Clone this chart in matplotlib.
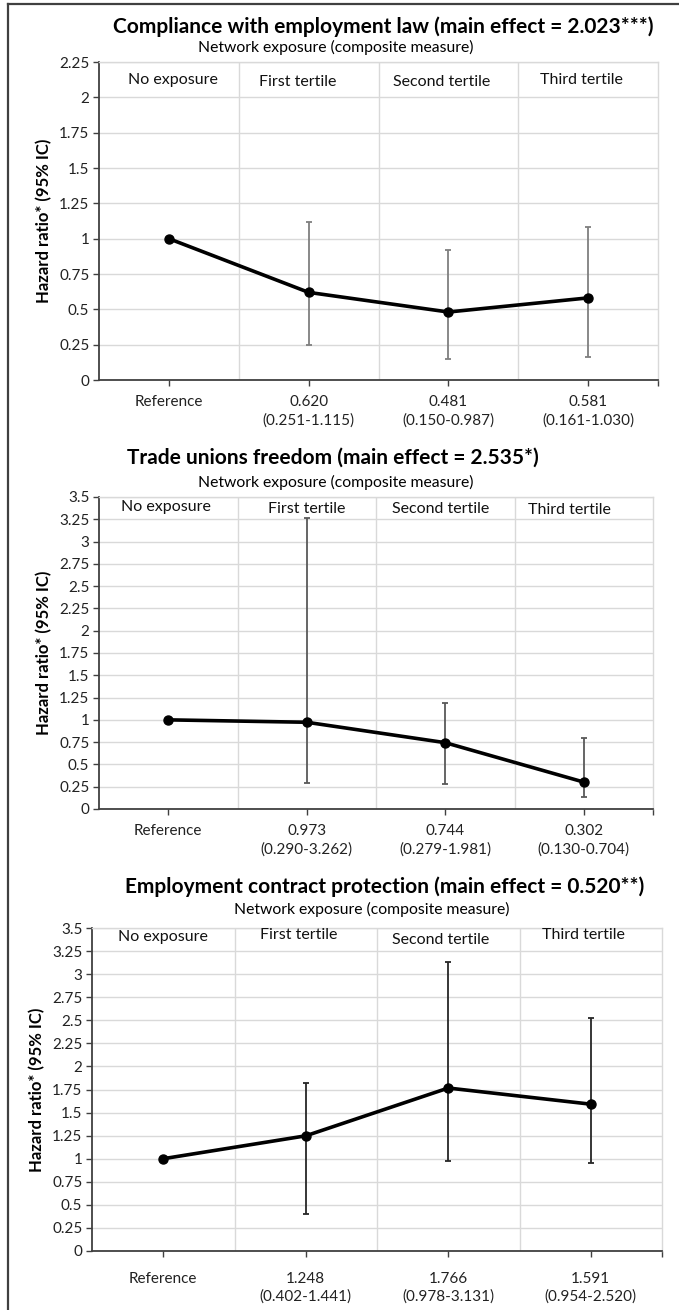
import matplotlib.pyplot as plt
import matplotlib.ticker as ticker
from matplotlib.lines import Line2D

plt.rcParams['font.family'] = ['Lato', 'DejaVu Sans']

# categories (column headers, shared by the three panels)
groups = ['No exposure', 'First tertile', 'Second tertile', 'Third tertile']
subtitle = 'Network exposure (composite measure)'

# panel 1 - compliance with employment law
title1 = 'Compliance with employment law (main effect = 2.023***)'
hr1 = [1.0, 0.620, 0.481, 0.581]
lo1 = [1.0, 0.251, 0.150, 0.161]
hi1 = [1.0, 1.115, 0.92, 1.08]
lab1 = ['Reference', '0.620\n(0.251-1.115)', '0.481\n(0.150-0.987)', '0.581\n(0.161-1.030)']

# panel 2 - trade unions freedom
title2 = 'Trade unions freedom (main effect = 2.535*)'
hr2 = [1.0, 0.973, 0.744, 0.302]
lo2 = [1.0, 0.290, 0.279, 0.130]
hi2 = [1.0, 3.262, 1.19, 0.80]
lab2 = ['Reference', '0.973\n(0.290-3.262)', '0.744\n(0.279-1.981)', '0.302\n(0.130-0.704)']

# panel 3 - employment contract protection
title3 = 'Employment contract protection (main effect = 0.520**)'
hr3 = [1.0, 1.248, 1.766, 1.591]
lo3 = [1.0, 0.402, 0.978, 0.954]
hi3 = [1.0, 1.82, 3.131, 2.520]
lab3 = ['Reference', '1.248\n(0.402-1.441)', '1.766\n(0.978-3.131)', '1.591\n(0.954-2.520)']

W, H = 679, 1310
fig = plt.figure(figsize=(W / 100, H / 100), dpi=100)
fig.patch.set_facecolor('white')

# outer frame (only left and top edges are visible in the crop)
fig.add_artist(Line2D([8 / W, 8 / W], [0, 1 - 4 / H], color='#404040', lw=1.6))
fig.add_artist(Line2D([8 / W, 1], [1 - 4 / H, 1 - 4 / H], color='#404040', lw=1.6))

GRID = '#d9d9d9'
AXC = '#404040'


def px_rect(left, top, right, bottom):
    return [left / W, 1 - bottom / H, (right - left) / W, (bottom - top) / H]


def draw_panel(rect, hr, lo, hi, labels, ymax, errcolor, header_pos, tickpad):
    ax = fig.add_axes(rect)
    x = list(range(len(hr)))
    ax.set_xlim(-0.5, len(hr) - 0.5)
    ax.set_ylim(0, ymax)

    # error bars (the reference category has none)
    ax.errorbar(x[1:], hr[1:],
                yerr=[[h - l for h, l in zip(hr[1:], lo[1:])],
                      [u - h for h, u in zip(hr[1:], hi[1:])]],
                fmt='none', ecolor=errcolor, elinewidth=1.3, capsize=2.5,
                capthick=1.3, zorder=3)
    ax.plot(x, hr, color='black', lw=2.6, marker='o', markersize=6.5,
            zorder=4)

    ax.yaxis.set_major_locator(ticker.MultipleLocator(0.25))
    ax.yaxis.set_major_formatter(ticker.FuncFormatter(lambda v, p: '%g' % v))
    ax.grid(axis='y', color=GRID, lw=1)
    for b in [0.5, 1.5, 2.5]:
        ax.axvline(b, color=GRID, lw=1, zorder=0)
    ax.set_axisbelow(True)

    ax.set_xticks(x + [len(hr) - 0.5])
    ax.set_xticklabels(labels + [''], fontsize=11, color='#222222',
                       linespacing=1.35)
    ax.tick_params(axis='x', length=4, width=1, color=AXC, pad=tickpad)
    ax.tick_params(axis='y', length=4, width=1, color=AXC, labelsize=11,
                   labelcolor='#222222', pad=3)

    for s in ['left', 'bottom']:
        ax.spines[s].set_color(AXC)
        ax.spines[s].set_linewidth(1.3)
    for s in ['top', 'right']:
        ax.spines[s].set_color(GRID)
        ax.spines[s].set_linewidth(1)

    ax.set_ylabel('Hazard ratio* (95% IC)', fontsize=12, fontweight='bold',
                  labelpad=5)

    # category headers inside the plot area
    for g, (gx, gy) in zip(groups, header_pos):
        ax.text(gx, gy, g, ha='center', va='center', fontsize=11.5,
                color='#111111')
    return ax


draw_panel(px_rect(99, 62, 658, 380), hr1, lo1, hi1, lab1, 2.25, '#7f7f7f',
           [(0.03, 2.12), (0.92, 2.11), (1.95, 2.11), (2.95, 2.125)], 7)
draw_panel(px_rect(99, 497, 653, 809), hr2, lo2, hi2, lab2, 3.5, '#595959',
           [(-0.02, 3.39), (1.0, 3.37), (1.97, 3.37), (2.9, 3.35)], 7)
draw_panel(px_rect(92, 928, 662, 1251), hr3, lo3, hi3, lab3, 3.5, '#262626',
           [(0.0, 3.4), (0.95, 3.42), (1.95, 3.37), (2.95, 3.42)], 11)

fig.text(383 / W, 1 - 27 / H, title1, ha='center', va='center', fontsize=15,
         fontweight='bold')
fig.text(336 / W, 1 - 47 / H, subtitle, ha='center', va='center', fontsize=11.3)
fig.text(333 / W, 1 - 458 / H, title2, ha='center', va='center', fontsize=15,
         fontweight='bold')
fig.text(336 / W, 1 - 482 / H, subtitle, ha='center', va='center', fontsize=11.3)
fig.text(385 / W, 1 - 887 / H, title3, ha='center', va='center', fontsize=15,
         fontweight='bold')
fig.text(372 / W, 1 - 909 / H, subtitle, ha='center', va='center', fontsize=11.3)

fig.savefig('out.png', dpi=100, facecolor='white')
